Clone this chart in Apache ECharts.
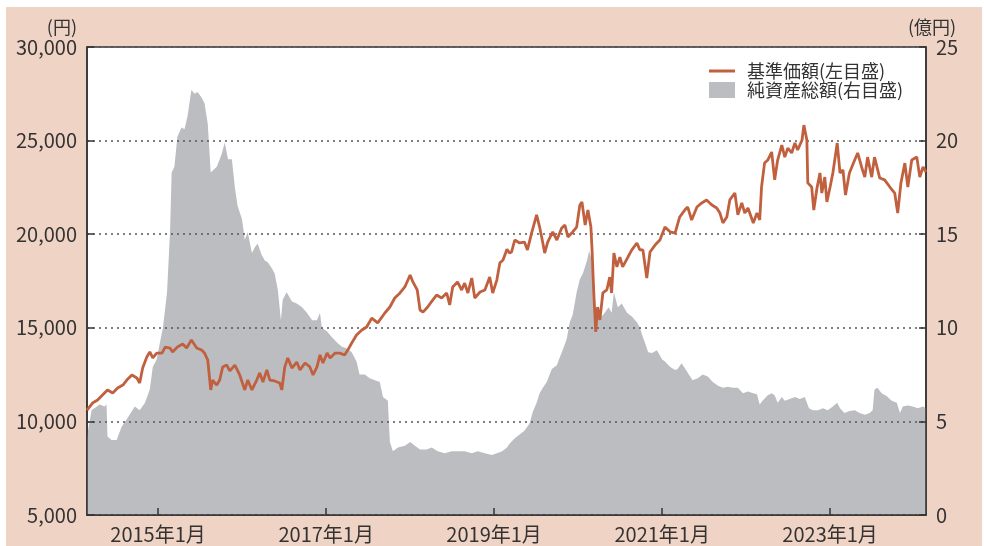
<!DOCTYPE html>
<html lang="ja">
<head>
<meta charset="utf-8" />
<title>基準価額・純資産総額の推移</title>
<script src="https://cdn.jsdelivr.net/npm/echarts@6/dist/echarts.min.js"></script>
<style>
  html, body { margin: 0; padding: 0; background: #fff; }
  #chart { width: 984px; height: 546px; }
</style>
</head>
<body>
<div id="chart"></div>
<script>
// 基準価額（左目盛、円）
var navDates = ['2014-02-26','2014-03-22','2014-04-13','2014-05-26','2014-06-18','2014-07-09','2014-08-01','2014-08-18','2014-09-09','2014-10-01','2014-10-13','2014-10-26','2014-11-13','2014-11-26','2014-12-09','2014-12-26',
  '2015-01-18','2015-02-01','2015-02-22','2015-03-05','2015-03-26','2015-04-18','2015-05-05','2015-05-26','2015-06-18','2015-07-09','2015-07-22','2015-08-05','2015-08-18','2015-08-26','2015-09-13','2015-09-26','2015-10-09','2015-10-26','2015-11-09','2015-12-01','2015-12-22',
  '2016-01-13','2016-01-26','2016-02-13','2016-03-05','2016-03-18','2016-04-01','2016-04-18','2016-05-01','2016-05-22','2016-06-13','2016-06-22','2016-07-05','2016-07-18','2016-08-05','2016-08-26','2016-09-09','2016-10-01','2016-10-22','2016-11-05','2016-11-22','2016-12-05','2016-12-18',
  '2017-01-05','2017-01-18','2017-02-09','2017-03-01','2017-03-22','2017-04-05','2017-04-22','2017-05-13','2017-06-05','2017-06-26','2017-07-18','2017-08-13','2017-09-13','2017-10-05','2017-10-26','2017-11-18','2017-12-09',
  '2018-01-01','2018-01-13','2018-02-01','2018-02-13','2018-02-26','2018-03-18','2018-04-09','2018-04-26','2018-05-18','2018-06-09','2018-06-22','2018-07-05','2018-07-26','2018-08-13','2018-08-26','2018-09-09','2018-09-26','2018-10-09','2018-11-01','2018-11-22','2018-12-13','2018-12-26',
  '2019-01-13','2019-01-26','2019-02-09','2019-02-26','2019-03-09','2019-03-18','2019-04-01','2019-04-22','2019-05-13','2019-05-26','2019-06-13','2019-07-05','2019-07-18','2019-08-01','2019-08-09','2019-08-22','2019-09-13','2019-10-01','2019-10-22','2019-11-05','2019-11-18','2019-12-09','2019-12-26',
  '2020-01-09','2020-01-18','2020-02-01','2020-02-13','2020-02-26','2020-03-02','2020-03-09','2020-03-18','2020-03-26','2020-04-05','2020-04-18','2020-05-05','2020-05-18','2020-05-26','2020-06-05','2020-06-18','2020-07-01','2020-07-13','2020-08-05','2020-08-22','2020-09-13','2020-09-26','2020-10-09','2020-10-26','2020-11-09','2020-12-01','2020-12-22',
  '2021-01-13','2021-02-05','2021-02-26','2021-03-18','2021-04-09','2021-04-22','2021-05-09','2021-06-01','2021-06-22','2021-07-13','2021-08-05','2021-08-26','2021-09-09','2021-09-22','2021-10-09','2021-10-22','2021-11-13','2021-11-26','2021-12-13','2021-12-26',
  '2022-01-09','2022-02-01','2022-02-17','2022-03-01','2022-03-09','2022-03-22','2022-04-05','2022-04-22','2022-05-05','2022-05-18','2022-06-05','2022-06-18','2022-07-01','2022-07-18','2022-08-01','2022-08-13','2022-09-01','2022-09-09','2022-09-22','2022-09-26','2022-10-13','2022-10-22','2022-11-05','2022-11-18','2022-11-26','2022-12-09','2022-12-18',
  '2023-01-01','2023-01-13','2023-02-01','2023-02-13','2023-02-26','2023-03-09','2023-03-26','2023-04-18','2023-05-01','2023-05-18','2023-06-01','2023-06-13','2023-07-01','2023-07-13','2023-08-05','2023-08-26','2023-09-18','2023-10-09','2023-10-22','2023-11-05','2023-11-22','2023-12-05','2023-12-22',
  '2024-01-13','2024-01-26','2024-02-09','2024-02-22'];
var navValues = [10600,10980,11140,11680,11520,11780,11940,12210,12480,12320,12050,12850,13440,13710,13390,13650,
  13650,13970,13920,13710,13970,14130,13920,14350,13920,13810,13650,13280,11680,12210,11940,12210,12910,13010,12700,13010,12480,
  11680,12210,11680,12210,12590,12100,12750,12210,12160,12050,11680,12910,13390,12850,13170,12750,13120,12910,12480,12910,13550,13120,
  13650,13390,13650,13650,13550,13810,14190,14620,14880,15040,15520,15260,15790,16110,16590,16860,17180,
  17820,17450,17020,15950,15840,16110,16480,16750,16590,16860,16220,17180,17450,17020,17390,16860,17660,16590,16910,17020,17710,16860,
  17550,18460,18620,19200,18990,19050,19690,19530,19580,19160,20060,21030,20380,19530,18990,19580,20120,19690,20330,20490,19850,20120,20380,
  21560,21720,20490,21290,20380,19160,17020,14780,16110,15420,16860,17020,17710,16860,18990,18250,18780,18250,18780,19160,19530,19160,19160,17660,19050,19420,19690,
  20380,20120,20060,20920,21290,21450,20760,21450,21670,21830,21560,21400,21130,20600,20920,21830,22200,21030,21670,21130,
  21400,20600,21130,20760,22520,23800,23960,24390,22900,23960,24760,24120,24600,24340,24870,24500,25030,25830,25030,22740,22520,21290,22470,23270,22200,23050,21720,
  22520,23270,24870,23270,23430,22090,23270,23960,24340,23590,23050,24120,23050,24120,23000,22900,22520,22200,21130,22740,23800,22520,23960,
  24120,23050,23590,23320];

// 純資産総額（右目盛、億円）
var assetDates = ['2014-02-26','2014-03-05','2014-03-18','2014-04-22','2014-05-13','2014-05-22','2014-05-26','2014-06-13','2014-07-05','2014-07-26','2014-08-22','2014-09-22','2014-10-13','2014-11-05','2014-11-26','2014-12-09','2014-12-26',
  '2015-01-09','2015-01-22','2015-02-09','2015-02-22','2015-03-01','2015-03-13','2015-03-26','2015-04-13','2015-04-26','2015-05-09','2015-05-26','2015-06-09','2015-06-22','2015-07-09','2015-07-22','2015-08-05','2015-08-18','2015-08-26','2015-09-13','2015-09-26','2015-10-05','2015-10-18','2015-11-01','2015-11-18','2015-12-01','2015-12-13',
  '2016-01-01','2016-01-13','2016-01-26','2016-02-13','2016-02-26','2016-03-09','2016-03-26','2016-04-09','2016-04-22','2016-05-09','2016-05-22','2016-06-05','2016-06-18','2016-06-26','2016-07-13','2016-08-05','2016-08-26','2016-09-18','2016-10-09','2016-11-01','2016-11-22','2016-12-05','2016-12-13',
  '2017-01-05','2017-01-26','2017-02-18','2017-03-09','2017-04-01','2017-04-22','2017-05-13','2017-05-26','2017-06-18','2017-07-09','2017-08-01','2017-08-22','2017-09-05','2017-09-26','2017-10-05','2017-10-18','2017-11-09','2017-12-09',
  '2018-01-01','2018-01-22','2018-02-13','2018-03-13','2018-04-05','2018-05-01','2018-06-01','2018-07-01','2018-07-26','2018-08-26','2018-09-26','2018-10-22','2018-11-22','2018-12-22',
  '2019-01-13','2019-02-05','2019-02-26','2019-03-09','2019-04-01','2019-04-22','2019-05-13','2019-06-05','2019-06-18','2019-07-05','2019-07-18','2019-08-01','2019-08-18','2019-09-09','2019-10-01','2019-10-13','2019-10-26','2019-11-13','2019-11-26','2019-12-09','2019-12-26',
  '2020-01-09','2020-01-22','2020-02-09','2020-02-18','2020-02-26','2020-03-05','2020-03-18','2020-03-26','2020-04-13','2020-04-26','2020-05-13','2020-05-26','2020-06-05','2020-06-22','2020-07-09','2020-08-01','2020-08-22','2020-09-13','2020-09-26','2020-10-09','2020-10-18','2020-11-01','2020-11-18','2020-12-09',
  '2021-01-01','2021-01-13','2021-02-05','2021-02-26','2021-03-09','2021-03-26','2021-04-09','2021-04-22','2021-05-13','2021-06-05','2021-06-26','2021-07-18','2021-08-09','2021-09-01','2021-09-22','2021-10-13','2021-11-05','2021-11-26','2021-12-18',
  '2022-01-09','2022-02-01','2022-02-17','2022-03-01','2022-03-13','2022-04-05','2022-04-22','2022-05-05','2022-05-18','2022-06-05','2022-06-18','2022-07-09','2022-08-01','2022-08-22','2022-09-13','2022-10-01','2022-10-18','2022-11-09','2022-12-01','2022-12-22',
  '2023-01-13','2023-02-01','2023-02-13','2023-03-05','2023-03-26','2023-04-18','2023-05-09','2023-06-01','2023-06-22','2023-07-05','2023-07-13','2023-07-26','2023-08-13','2023-09-05','2023-09-26','2023-10-18','2023-11-01','2023-11-13','2023-12-05','2023-12-26',
  '2024-01-18','2024-02-09','2024-02-22'];
var assetValues = [4.1,4.7,5.6,5.9,5.8,5.9,4.2,4.0,4.0,4.7,5.2,5.8,5.6,6.0,6.7,7.9,8.3,
  9.2,10.0,11.9,15.1,18.3,18.6,20.2,20.7,20.6,21.3,22.7,22.5,22.6,22.3,22.0,20.9,18.3,18.4,18.6,19.0,19.3,19.9,19.0,19.0,17.5,16.5,
  15.8,14.7,15.1,14.0,14.3,14.5,13.9,13.6,13.5,13.2,12.9,12.0,10.4,11.5,11.9,11.4,11.3,11.1,10.8,10.4,10.4,10.8,10.0,
  9.8,9.5,9.2,9.0,8.9,8.7,8.2,7.5,7.5,7.3,7.2,7.1,6.3,6.1,3.9,3.4,3.6,3.7,
  3.9,3.7,3.5,3.5,3.6,3.4,3.3,3.4,3.4,3.4,3.3,3.4,3.3,3.2,
  3.3,3.4,3.6,3.8,4.1,4.3,4.5,4.9,5.5,6.0,6.5,6.8,7.1,7.8,8.0,8.4,8.8,9.4,10.3,10.7,11.9,
  12.6,12.9,13.6,14.1,13.8,12.9,9.7,10.8,10.6,10.8,11.1,10.8,11.9,11.1,11.3,10.8,10.6,10.3,10.0,9.5,9.2,8.7,8.65,8.8,
  8.3,8.2,7.9,7.75,7.8,8.1,7.85,7.6,7.2,7.3,7.5,7.4,7.1,6.9,6.8,6.85,6.8,6.8,6.5,
  6.6,6.5,6.45,5.9,6.1,6.4,6.5,6.4,6.0,6.3,6.1,6.2,6.3,6.2,6.3,5.7,5.6,5.6,5.7,5.6,
  5.8,6.0,5.7,5.45,5.55,5.6,5.45,5.35,5.45,5.6,6.7,6.8,6.5,6.35,6.1,6.0,5.45,5.8,5.85,5.8,
  5.7,5.8,5.7];

// 横軸の範囲と目盛（1月、隔年）
var xStart = '2014-02-26';
var xEnd = '2024-02-22';
var tickDates = ['2015-01-01','2017-01-01','2019-01-01','2021-01-01','2023-01-01'];

function ts(d) { return echarts.number.parseDate(d).getTime(); }

var navData = navDates.map(function (d, i) { return [ts(d), navValues[i]]; });
var assetData = assetDates.map(function (d, i) { return [ts(d), assetValues[i]]; });
var tickValues = tickDates.map(ts);

var font = "'Noto Sans CJK JP', 'Noto Sans', sans-serif";
var textColor = '#333';
var lineColor = '#c1603f';
var areaColor = '#bcbdc1';

var chart = echarts.init(document.getElementById('chart'));

var option = {
  backgroundColor: '#fff',
  animation: false,
  textStyle: { fontFamily: font },
  graphic: [{
    type: 'rect',
    z: -100,
    shape: { x: 6, y: 7, width: 976, height: 539 },
    style: { fill: '#efd3c5' }
  }],
  grid: {
    left: 87, right: 58, top: 47, bottom: 31,
    show: true,
    backgroundColor: '#fff',
    borderColor: '#333',
    borderWidth: 1.5
  },
  legend: [{
    left: 704, top: 57,
    itemWidth: 26, itemHeight: 3,
    data: [{ name: '基準価額(左目盛)', icon: 'rect' }],
    textStyle: { fontFamily: font, fontSize: 18, color: textColor, padding: [0, 0, 0, 7] }
  }, {
    left: 704, top: 76,
    itemWidth: 26, itemHeight: 16,
    data: [{ name: '純資産総額(右目盛)', icon: 'rect' }],
    textStyle: { fontFamily: font, fontSize: 18, color: textColor, padding: [0, 0, 0, 7] }
  }],
  xAxis: {
    type: 'value',
    min: ts(xStart),
    max: ts(xEnd),
    z: 3,
    axisLine: { show: true, lineStyle: { color: '#333', width: 1.5 } },
    axisTick: { show: true, inside: true, length: 7, customValues: tickValues, lineStyle: { color: '#333', width: 1.5 } },
    axisLabel: {
      customValues: tickValues,
      margin: 9,
      fontFamily: font, fontSize: 20, color: textColor,
      formatter: function (v) {
        var d = new Date(v);
        return d.getFullYear() + '年' + (d.getMonth() + 1) + '月';
      }
    },
    splitLine: { show: false }
  },
  yAxis: [{
    type: 'value',
    min: 5000, max: 30000, interval: 5000,
    position: 'left',
    z: 3,
    name: '(円)',
    nameLocation: 'end',
    nameGap: 20,
    nameTextStyle: { fontFamily: font, fontSize: 18, color: textColor, align: 'right', verticalAlign: 'middle', padding: [0, 10, 0, 0] },
    axisLine: { show: true, lineStyle: { color: '#333', width: 1.5 } },
    axisTick: { show: true, inside: true, length: 7, lineStyle: { color: '#333', width: 1.5 } },
    axisLabel: {
      margin: 10, fontFamily: font, fontSize: 20, color: textColor,
      formatter: function (v) { return v.toLocaleString('en-US'); }
    },
    splitLine: { show: true, lineStyle: { color: '#555', width: 1.5, type: [2, 4] } }
  }, {
    type: 'value',
    min: 0, max: 25, interval: 5,
    position: 'right',
    z: 3,
    name: '(億円)',
    nameLocation: 'end',
    nameGap: 20,
    nameTextStyle: { fontFamily: font, fontSize: 18, color: textColor, align: 'center', verticalAlign: 'middle', padding: [0, 0, 0, 12] },
    axisLine: { show: true, lineStyle: { color: '#333', width: 1.5 } },
    axisTick: { show: true, inside: true, length: 7, lineStyle: { color: '#333', width: 1.5 } },
    axisLabel: { margin: 10, fontFamily: font, fontSize: 20, color: textColor },
    splitLine: { show: false }
  }],
  series: [{
    name: '純資産総額(右目盛)',
    type: 'line',
    yAxisIndex: 1,
    data: assetData,
    showSymbol: false,
    z: 1,
    itemStyle: { color: areaColor },
    lineStyle: { width: 0, color: areaColor },
    areaStyle: { color: areaColor, opacity: 1 }
  }, {
    name: '基準価額(左目盛)',
    type: 'line',
    yAxisIndex: 0,
    data: navData,
    showSymbol: false,
    z: 5,
    itemStyle: { color: lineColor },
    lineStyle: { width: 2.8, color: lineColor }
  }]
};

chart.setOption(option);
</script>
</body>
</html>
